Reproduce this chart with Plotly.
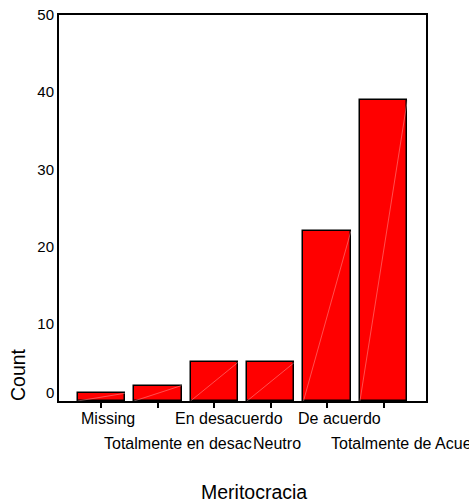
import plotly.graph_objects as go

categories = ["Missing", "Totalmente en desacuerdo", "En desacuerdo", "Neutro",
              "De acuerdo", "Totalmente de Acuerdo"]
counts = [1, 2, 5, 5, 22, 39]
# labels as they show under the axis (second one is cut short in the original)
tick_labels = ["Missing", "Totalmente en desac", "En desacuerdo", "Neutro",
               "De acuerdo", "Totalmente de Acuerdo"]
y_ticks = [10, 20, 30, 40, 50]

FONT = "Arial, Liberation Sans, sans-serif"
BAR_W = 0.84

fig = go.Figure()
fig.add_trace(go.Bar(
    x=list(range(len(categories))),
    y=counts,
    width=BAR_W,
    marker=dict(color="#FF0000", line=dict(color="black", width=1.5)),
    hovertext=categories,
    showlegend=False
))

# faint diagonal seam across each bar, like the original rendering
for i, v in enumerate(counts):
    fig.add_shape(type="line", xref="x", yref="y",
                  x0=i - BAR_W / 2, y0=0, x1=i + BAR_W / 2, y1=v,
                  line=dict(color="rgba(255,190,190,0.7)", width=0.6))

# staggered category labels: even ones on row 1, odd ones on row 2
label_shift = [-22, -56, -41, -20, -31, -55]
for i, txt in enumerate(tick_labels):
    fig.add_annotation(x=i, xref="x", y=0, yref="paper",
                       text=txt, showarrow=False,
                       xanchor="left", yanchor="middle",
                       xshift=label_shift[i],
                       yshift=-17 if i % 2 == 0 else -42,
                       font=dict(family=FONT, size=16, color="black"))

# the zero label sits a little above the axis in the original
fig.add_annotation(x=0, xref="paper", y=0, yref="y", text="0",
                   showarrow=False, xanchor="right", yanchor="middle",
                   xshift=-3, yshift=9,
                   font=dict(family=FONT, size=15, color="black"))

fig.add_annotation(x=0, xref="paper", y=0, yref="paper", text="Count",
                   showarrow=False, textangle=-90,
                   xanchor="center", yanchor="middle",
                   xshift=-41, yshift=26,
                   font=dict(family=FONT, size=19.5, color="black"))

fig.add_annotation(x=0.5, xref="paper", y=0, yref="paper", text="Meritocracia",
                   showarrow=False, xanchor="center", yanchor="middle",
                   xshift=11, yshift=-91,
                   font=dict(family=FONT, size=19.5, color="black"))

fig.update_xaxes(
    range=[-0.75, len(categories) - 0.25],
    tickvals=list(range(len(categories))),
    showticklabels=False,
    ticks="outside", ticklen=5, tickwidth=1.5, tickcolor="black",
    showline=True, linecolor="black", linewidth=2, mirror=True,
    showgrid=False, zeroline=False
)
fig.update_yaxes(
    range=[0, 50],
    tickvals=y_ticks,
    ticks="", ticklabelstandoff=0,
    tickfont=dict(family=FONT, size=15, color="black"),
    showline=True, linecolor="black", linewidth=2, mirror=True,
    showgrid=False, zeroline=False, automargin=False
)

fig.update_layout(
    width=469, height=502,
    margin=dict(l=59, r=43, t=15, b=101),
    plot_bgcolor="white", paper_bgcolor="white",
    font=dict(family=FONT, color="black"),
    bargap=0
)

fig.write_html("out.html", config={"displayModeBar": False},
               post_script="document.body.style.margin='0';")
